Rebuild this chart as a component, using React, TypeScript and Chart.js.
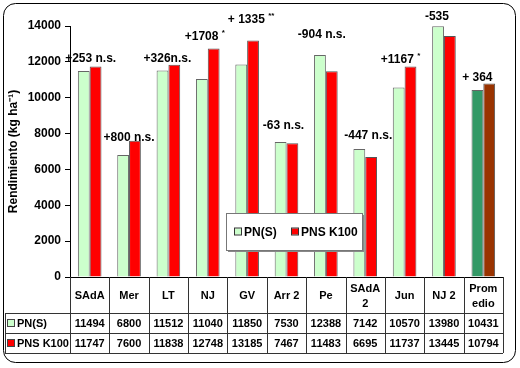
import React, { useEffect, useRef } from "react";
import { Chart, registerables } from "chart.js";

Chart.register(...registerables);

const categories: (string | string[])[] = ["SAdA", "Mer", "LT", "NJ", "GV", "Arr 2", "Pe", ["SAdA", "2"], "Jun", "NJ 2", ["Prom", "edio"]];
const pnS = [11494, 6800, 11512, 11040, 11850, 7530, 12388, 7142, 10570, 13980, 10431];
const pnsK100 = [11747, 7600, 11838, 12748, 13185, 7467, 11483, 6695, 11737, 13445, 10794];
const diffLabels = ["+253 n.s.", "+800 n.s.", "+326n.s.", "+1708 *", "+ 1335 **", "-63 n.s.", "-904 n.s.", "-447 n.s.", "+1167 *", "-535", "+ 364"];
const yTicks = [0, 2000, 4000, 6000, 8000, 10000, 12000, 14000];
// label placement offsets (dx, dy) relative to category center / tallest bar top
const labelOffsets: [number, number][] = [[1, -8], [0, -3], [-1, -6], [-3, -12], [4, -21], [-3, -16], [-4, -20], [3, -13], [-4, -7], [-7, -10], [-6, -6]];

const FONT = "'Liberation Sans', Arial, sans-serif";
const GREEN = "#ccffcc";
const RED = "#ff0000";
const AVG_GREEN = "#339966";
const AVG_RED = "#993300";

const seriesNames = ["PN(S)", "PNS K100"];

function roundRect(ctx: CanvasRenderingContext2D, x: number, y: number, w: number, h: number, r: number) {
  ctx.beginPath();
  ctx.moveTo(x + r, y);
  ctx.lineTo(x + w - r, y);
  ctx.arcTo(x + w, y, x + w, y + r, r);
  ctx.lineTo(x + w, y + h - r);
  ctx.arcTo(x + w, y + h, x + w - r, y + h, r);
  ctx.lineTo(x + r, y + h);
  ctx.arcTo(x, y + h, x, y + h - r, r);
  ctx.lineTo(x, y + r);
  ctx.arcTo(x, y, x + r, y, r);
  ctx.closePath();
}

const customPlugin = {
  id: "custom",
  afterDraw(chart: any) {
    const ctx: CanvasRenderingContext2D = chart.ctx;
    const xs = chart.scales.x;
    const ys = chart.scales.y;
    const area = chart.chartArea;
    const n = categories.length;
    const cw = (area.right - area.left) / n;
    ctx.save();

    // outer rounded border
    ctx.strokeStyle = "#000";
    ctx.lineWidth = 1;
    roundRect(ctx, 3.5, 3.5, 512, 359, 12);
    ctx.stroke();

    // difference labels
    ctx.fillStyle = "#000";
    ctx.textBaseline = "middle";
    for (let i = 0; i < n; i++) {
      const cx = xs.getPixelForValue(i) + labelOffsets[i][0];
      const top = ys.getPixelForValue(Math.max(pnS[i], pnsK100[i]));
      const cy = top + labelOffsets[i][1];
      const m = diffLabels[i].match(/^(.*?)(\**)$/);
      const base = m ? m[1] : diffLabels[i];
      const sup = m ? m[2] : "";
      ctx.font = `bold 12px ${FONT}`;
      const wb = ctx.measureText(base).width;
      ctx.font = `bold 8px ${FONT}`;
      const ws = sup ? ctx.measureText(sup).width : 0;
      const x0 = cx - (wb + ws) / 2;
      ctx.textAlign = "left";
      ctx.font = `bold 12px ${FONT}`;
      ctx.fillText(base, x0, cy);
      if (sup) {
        ctx.font = `bold 8px ${FONT}`;
        ctx.fillText(sup, x0 + wb, cy - 4);
      }
    }

    // data table
    const yTop = area.bottom;
    const yRow1 = yTop + 36;
    const yRow2 = yRow1 + 20;
    const yRow3 = yRow2 + 20;
    const leftX = 5;
    ctx.strokeStyle = "#333";
    ctx.lineWidth = 1;
    ctx.beginPath();
    for (let i = 0; i <= n; i++) {
      const x = Math.round(area.left + i * cw) + 0.5;
      ctx.moveTo(x, yTop);
      ctx.lineTo(x, yRow3);
    }
    ctx.moveTo(leftX + 0.5, yRow1);
    ctx.lineTo(leftX + 0.5, yRow3);
    [yRow1, yRow2, yRow3].forEach((y) => {
      ctx.moveTo(leftX, Math.round(y) + 0.5);
      ctx.lineTo(area.right, Math.round(y) + 0.5);
    });
    ctx.stroke();

    ctx.fillStyle = "#000";
    ctx.textAlign = "center";
    ctx.font = `bold 11px ${FONT}`;
    for (let i = 0; i < n; i++) {
      const cx = area.left + (i + 0.5) * cw;
      const lab = categories[i];
      const lines = Array.isArray(lab) ? lab : [lab];
      const mid = (yTop + yRow1) / 2 + 1;
      lines.forEach((ln, k) => {
        const off = (k - (lines.length - 1) / 2) * 15;
        ctx.fillText(ln, cx, mid + off);
      });
      ctx.fillText(String(pnS[i]), cx, (yRow1 + yRow2) / 2 + 1);
      ctx.fillText(String(pnsK100[i]), cx, (yRow2 + yRow3) / 2 + 1);
    }
    // row headers
    const rows = [
      { name: seriesNames[0], color: GREEN, y: (yRow1 + yRow2) / 2 },
      { name: seriesNames[1], color: RED, y: (yRow2 + yRow3) / 2 },
    ];
    ctx.textAlign = "left";
    rows.forEach((r) => {
      ctx.fillStyle = r.color;
      ctx.fillRect(8, Math.round(r.y) - 3, 6, 6);
      ctx.strokeStyle = "#444";
      ctx.strokeRect(7.5, Math.round(r.y) - 3.5, 7, 7);
      ctx.fillStyle = "#000";
      ctx.fillText(r.name, 17, r.y + 1);
    });

    // legend box
    const lx = 226, ly = 213, lw = 136, lh = 37;
    ctx.fillStyle = "#888";
    ctx.fillRect(lx + 2, ly + 2, lw, lh);
    ctx.fillStyle = "#fff";
    ctx.fillRect(lx, ly, lw, lh);
    ctx.strokeStyle = "#777";
    ctx.strokeRect(lx + 0.5, ly + 0.5, lw, lh);
    const items = [
      { name: seriesNames[0], color: GREEN, x: 235 },
      { name: seriesNames[1], color: RED, x: 292 },
    ];
    ctx.font = `bold 12px ${FONT}`;
    items.forEach((it) => {
      const cy = ly + lh / 2;
      ctx.fillStyle = it.color;
      ctx.fillRect(it.x, cy - 3, 6, 6);
      ctx.strokeStyle = "#333";
      ctx.strokeRect(it.x - 0.5, cy - 3.5, 7, 7);
      ctx.fillStyle = "#000";
      ctx.fillText(it.name, it.x + 9, cy + 1);
    });

    ctx.restore();
  },
};

export default function App() {
  const ref = useRef<HTMLCanvasElement>(null);
  useEffect(() => {
    if (!ref.current) return;
    const last = categories.length - 1;
    const chart = new Chart(ref.current, {
      type: "bar",
      data: {
        labels: categories as any,
        datasets: [
          {
            label: seriesNames[0],
            data: pnS,
            backgroundColor: pnS.map((_, i) => (i === last ? AVG_GREEN : GREEN)),
            borderColor: "#666",
            borderWidth: 1,
          },
          {
            label: seriesNames[1],
            data: pnsK100,
            backgroundColor: pnsK100.map((_, i) => (i === last ? AVG_RED : RED)),
            borderColor: "#555",
            borderWidth: 1,
          },
        ],
      },
      options: {
        animation: false,
        responsive: false,
        maintainAspectRatio: false,
        datasets: { bar: { categoryPercentage: 0.6, barPercentage: 1 } },
        layout: { padding: { left: 4, right: 17, top: 26, bottom: 91 } },
        plugins: { legend: { display: false }, tooltip: { enabled: false } },
        scales: {
          x: {
            ticks: { display: false },
            grid: { display: false },
            border: { display: true, color: "#000", width: 1 },
            afterFit: (s: any) => { s.height = 0; },
          },
          y: {
            min: 0,
            max: 14000,
            afterBuildTicks: (s: any) => { s.ticks = yTicks.map((v) => ({ value: v })); },
            ticks: {
              color: "#000",
              font: { family: FONT, size: 12, weight: "bold" },
              padding: 4,
              callback: (v: any) => String(v),
            },
            grid: { display: true, drawOnChartArea: false, drawTicks: true, tickLength: 5, color: "#000" },
            border: { display: true, color: "#000", width: 1 },
            title: {
              display: true,
              text: "Rendimiento (kg ha⁻¹)",
              color: "#000",
              font: { family: FONT, size: 12, weight: "bold" },
              padding: { top: 2, bottom: 0 },
            },
            afterFit: (s: any) => { s.width = 66; },
          },
        },
      },
      plugins: [customPlugin],
    } as any);
    return () => chart.destroy();
  }, []);
  return (
    <div style={{ position: "fixed", left: 0, top: 0, width: 520, height: 368, background: "#fff" }}>
      <canvas ref={ref} width={520} height={368} />
    </div>
  );
}
